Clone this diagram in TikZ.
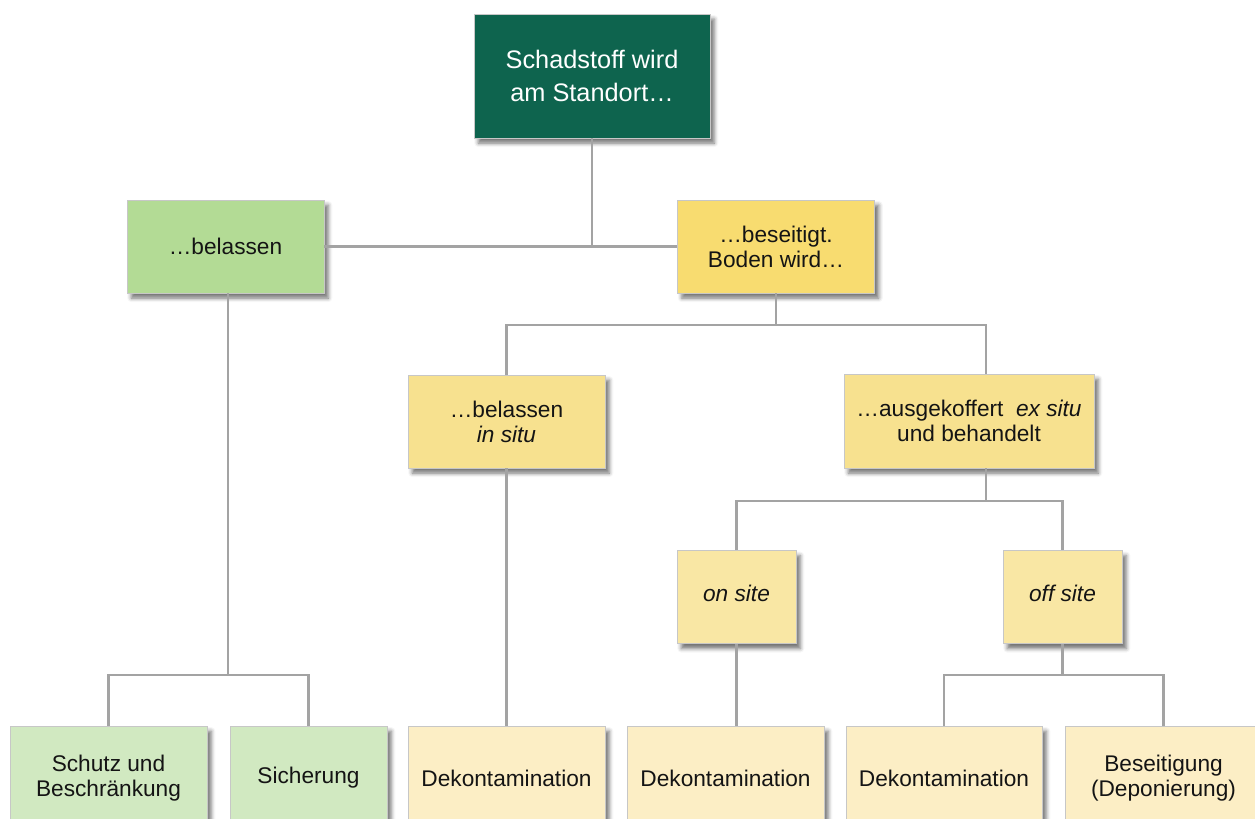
\documentclass[tikz,border=0pt]{standalone}
\usepackage{fontspec}
\setmainfont{Liberation Sans}
\usetikzlibrary{shadows.blur,calc}

\definecolor{topgreen}{HTML}{0E644E}
\definecolor{greenA}{HTML}{B3DB95}
\definecolor{greenB}{HTML}{D1E9C1}
\definecolor{yellowA}{HTML}{F8DC70}
\definecolor{yellowB}{HTML}{F7E18F}
\definecolor{yellowC}{HTML}{F9E7A4}
\definecolor{yellowD}{HTML}{FCEEC5}

\tikzset{
  box/.style={rectangle, draw=black!22, line width=0.6pt, align=center,
    text=black!92, inner sep=2pt,
    font=\fontsize{17}{18.75}\selectfont,
    blur shadow={shadow xshift=3.2pt, shadow yshift=-3.8pt,
      shadow blur radius=3pt, shadow opacity=55}},
  midbox/.style={box, minimum width=147.75pt, minimum height=69.75pt},
  sitebox/.style={box, minimum width=89.25pt, minimum height=69.75pt},
  lowbox/.style={box, minimum width=147.75pt, minimum height=78pt},
  conn/.style={draw=black!36, line width=2.2pt},
}

\begin{document}
\begin{tikzpicture}[x=0.75pt, y=-0.75pt]
  \useasboundingbox (0,0) rectangle (1255,818);

  % root
  \node[box, fill=topgreen, text=white, minimum width=177pt, minimum height=93pt,
        font=\fontsize{19}{24.75}\selectfont] (top) at (592,76)
        {Schadstoff wird\\am Standort…};

  % first level
  \node[midbox, fill=greenA]  (bel) at (225.5,246.5) {…belassen};
  \node[midbox, fill=yellowA] (bes) at (776,246.5) {…beseitigt.\\Boden wird…};

  % second level
  \node[midbox, fill=yellowB] (situ) at (506.5,421.5) {…belassen\\\textit{in situ}};
  \node[box, fill=yellowB, minimum width=187.5pt, minimum height=70.5pt] (aus) at (969,421)
        {…ausgekoffert \ \textit{ex situ}\\und behandelt};

  % third level
  \node[sitebox, fill=yellowC] (on)  at (736.5,597)  {\raisebox{5pt}{\textit{on site}}};
  \node[sitebox, fill=yellowC] (off) at (1062.5,597) {\raisebox{5pt}{\textit{off site}}};

  % leaves
  \node[lowbox, fill=greenB] (s1) at (108.5,778) {Schutz und\\Beschränkung};
  \node[lowbox, fill=greenB, minimum width=117.75pt] (s2) at (308.5,778) {Sicherung};
  \node[lowbox, fill=yellowD] (d1) at (506.5,778) {Dekontamination};
  \node[lowbox, fill=yellowD] (d2) at (725.5,778) {Dekontamination};
  \node[lowbox, fill=yellowD, minimum width=147pt] (d3) at (944,778) {Dekontamination};
  \node[lowbox, fill=yellowD] (d4) at (1163.5,778) {Beseitigung\\(Deponierung)};

  % bus levels and offset attachment points
  \coordinate (busB) at (0,325);
  \coordinate (busC) at (0,501);
  \coordinate (busD) at (0,675);
  \coordinate (ausIn)  at ($(aus.north)+(17,0)$);
  \coordinate (ausOut) at ($(aus.south)+(17,0)$);
  \coordinate (belOut) at ($(bel.south)+(2.5,0)$);

  % connectors
  \draw[conn] (top.south) -- (top.south |- bel.east);
  \draw[conn] (bel.east) -- (bes.west);

  \draw[conn] (bes.south) -- (bes.south |- busB);
  \draw[conn] (situ.north) |- (busB -| ausIn) -- (ausIn);

  \draw[conn] (ausOut) -- (ausOut |- busC);
  \draw[conn] (on.north) |- (off.north |- busC) -- (off.north);

  \draw[conn] (situ.south) -- (d1.north);
  \draw[conn] (on.south) -- (on.south |- d2.north);

  \draw[conn] (off.south) -- (off.south |- busD);
  \draw[conn] (d3.north) |- (d4.north |- busD) -- (d4.north);

  \draw[conn] (belOut) -- (belOut |- busD);
  \draw[conn] (s1.north) |- (s2.north |- busD) -- (s2.north);
\end{tikzpicture}
\end{document}
